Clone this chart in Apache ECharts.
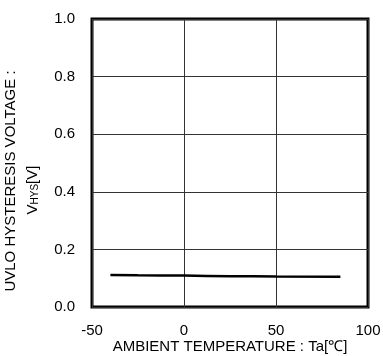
<!DOCTYPE html>
<html>
<head>
<meta charset="utf-8">
<script src="https://cdn.jsdelivr.net/npm/echarts@6/dist/echarts.min.js"></script>
<style>
  html, body { margin: 0; padding: 0; background: #fff; }
  #chart { width: 383px; height: 356px; }
</style>
</head>
<body>
<div id="chart"></div>
<script>
// temperature (°C) and hysteresis voltage (V)
const temps = [-40, -25, 0, 25, 50, 85];
const vhys = [0.111, 0.110, 0.109, 0.107, 0.106, 0.105];

const xTicks = [-50, 0, 50, 100];
const yTicks = [0.0, 0.2, 0.4, 0.6, 0.8, 1.0];

const FONT = '"Liberation Sans", Arial, sans-serif';

const chart = echarts.init(document.getElementById('chart'));

chart.setOption({
  animation: false,
  backgroundColor: '#fff',
  grid: {
    left: 92, right: 15, top: 19, bottom: 49,
    outerBoundsMode: 'none',
    show: true,
    borderColor: '#000',
    borderWidth: 3
  },
  xAxis: {
    type: 'value',
    min: xTicks[0],
    max: xTicks[xTicks.length - 1],
    interval: 50,
    name: 'AMBIENT TEMPERATURE : Ta[℃]',
    nameLocation: 'middle',
    nameGap: 32,
    nameMoveOverlap: false,
    nameTextStyle: { fontFamily: FONT, fontSize: 15, color: '#000' },
    axisLine: { show: false },
    axisTick: { show: false },
    axisLabel: { fontFamily: FONT, fontSize: 15, color: '#000', margin: 16 },
    splitLine: { lineStyle: { color: '#333', width: 1 } }
  },
  yAxis: {
    type: 'value',
    min: yTicks[0],
    max: yTicks[yTicks.length - 1],
    interval: 0.2,
    axisLine: { show: false },
    axisTick: { show: false },
    axisLabel: {
      fontFamily: FONT, fontSize: 15, color: '#000', margin: 17,
      formatter: v => v.toFixed(1)
    },
    splitLine: { lineStyle: { color: '#333', width: 1 } }
  },
  graphic: [
    {
      type: 'text',
      x: 11, y: 181,
      rotation: Math.PI / 2,
      style: {
        text: 'UVLO HYSTERESIS VOLTAGE :',
        font: '15px ' + FONT,
        fill: '#000',
        align: 'center',
        verticalAlign: 'middle'
      }
    },
    {
      type: 'text',
      x: 32, y: 190,
      rotation: Math.PI / 2,
      style: {
        text: '{b|V}{s|HYS}{b|[V]}',
        align: 'center',
        verticalAlign: 'middle',
        rich: {
          b: { fontFamily: FONT, fontSize: 15, fill: '#000', lineHeight: 17, verticalAlign: 'bottom' },
          s: { fontFamily: FONT, fontSize: 10, fill: '#000', lineHeight: 17, verticalAlign: 'bottom' }
        }
      }
    }
  ],
  series: [{
    type: 'line',
    data: temps.map((t, i) => [t, vhys[i]]),
    smooth: true,
    showSymbol: false,
    lineStyle: { color: '#000', width: 2.5 }
  }]
});
</script>
</body>
</html>
